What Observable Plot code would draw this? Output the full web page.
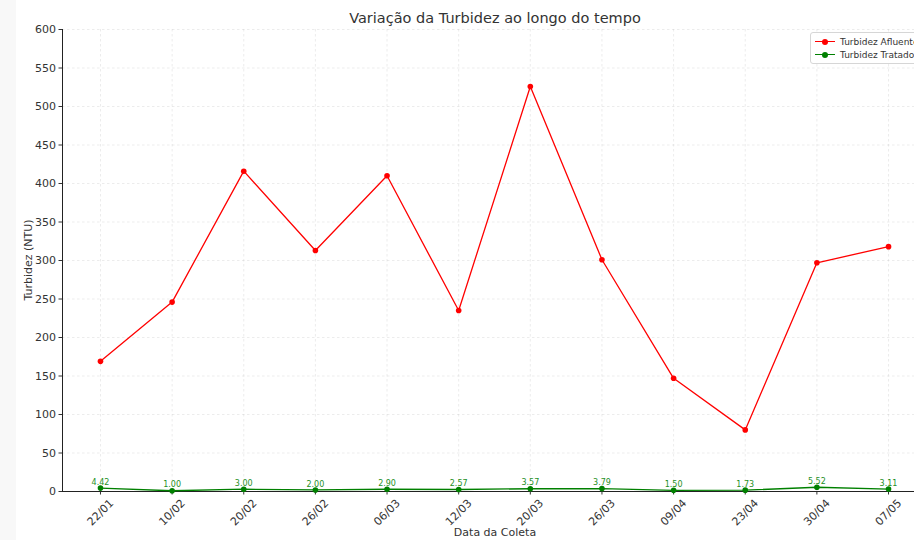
<!DOCTYPE html>
<html>
<head>
<meta charset="utf-8">
<script src="https://cdn.jsdelivr.net/npm/d3@7"></script>
<script src="https://cdn.jsdelivr.net/npm/@observablehq/plot@0.6"></script>
<style>
  html, body { margin: 0; padding: 0; background: #fff; overflow: hidden; width: 914px; height: 540px; }
  body { font-family: "DejaVu Sans", sans-serif; position: relative; }
  #strip { position: absolute; left: 0; top: 0; width: 16px; height: 540px; background: #f8f8f8; }
  #chart { position: absolute; left: 0; top: 0; }
  .lbl { position: absolute; color: #333; white-space: nowrap; }
  #title { left: 0; width: 990px; top: 10px; text-align: center; font-size: 14.5px; }
  #xlab { left: 0; width: 990px; top: 526px; text-align: center; font-size: 11px; }
  #ylab { left: 28px; top: 260px; font-size: 11px; transform: translate(-50%, -50%) rotate(-90deg); }
  #legend { position: absolute; left: 810px; top: 32px; width: 120px; height: 30px; border: 1px solid #d6d6d6; border-radius: 3px; background: rgba(255,255,255,0.85); font-size: 9px; color: #333; }
  .entry { position: absolute; left: 4px; height: 12px; width: 116px; }
  .entry .ln { position: absolute; left: 0; top: 5px; width: 20px; height: 1.4px; }
  .entry .mk { position: absolute; left: 7px; top: 3px; width: 6px; height: 6px; border-radius: 50%; }
  .entry .tx { position: absolute; left: 25px; top: 0; line-height: 12px; white-space: nowrap; }
</style>
</head>
<body>
<div id="strip"></div>
<div id="chart"></div>
<div id="title" class="lbl">Variação da Turbidez ao longo do tempo</div>
<div id="xlab" class="lbl">Data da Coleta</div>
<div id="ylab" class="lbl">Turbidez (NTU)</div>
<div id="legend"></div>
<script>
const dates = ["22/01","10/02","20/02","26/02","06/03","12/03","20/03","26/03","09/04","23/04","30/04","07/05"];
const afluente = [169, 246, 416, 313, 410, 235, 526, 301, 147, 80, 297, 318];
const tratado = [4.42, 1.00, 3.00, 2.00, 2.90, 2.57, 3.57, 3.79, 1.50, 1.73, 5.52, 3.11];
const yTicks = [0, 50, 100, 150, 200, 250, 300, 350, 400, 450, 500, 550, 600];
const seriesNames = ["Turbidez Afluente", "Turbidez Tratado"];
const seriesColors = ["#ff0000", "#008000"];

const rowsA = dates.map((d, i) => ({i, date: d, v: afluente[i]}));
const rowsT = dates.map((d, i) => ({i, date: d, v: tratado[i]}));
const idx = dates.map((d, i) => i);

const gridStyle = {stroke: "#b0b0b0", strokeOpacity: 0.3, strokeDasharray: "2.5,2.5", strokeWidth: 0.8};

const chart = Plot.plot({
  width: 914,
  height: 540,
  marginLeft: 62,
  marginRight: 0,
  marginTop: 29,
  marginBottom: 49,
  style: {fontFamily: "DejaVu Sans, sans-serif", background: "transparent", overflow: "hidden"},
  x: {type: "linear", domain: [-0.53, 11.53], range: [62, 926]},
  y: {domain: [0, 600], range: [491, 29]},
  marks: [
    Plot.gridX(idx, {...gridStyle}),
    Plot.gridY(yTicks, {...gridStyle}),
    Plot.axisY(yTicks, {tickSize: 3.5, tickPadding: 3, fontSize: 11, color: "#333", stroke: "#333", label: null}),
    Plot.axisX(idx, {tickSize: 3.5, tickFormat: () => "", label: null, stroke: "#333"}),
    Plot.text(idx, {x: d => d, y: () => 0, text: d => dates[d], rotate: -45, dy: 21, fontSize: 11, fill: "#333", textAnchor: "middle", lineAnchor: "middle"}),
    Plot.ruleX([-0.53], {stroke: "#222", strokeWidth: 1}),
    Plot.ruleY([0], {stroke: "#222", strokeWidth: 1}),
    Plot.line(rowsA, {x: "i", y: "v", stroke: seriesColors[0], strokeWidth: 1.3}),
    Plot.dot(rowsA, {x: "i", y: "v", r: 2.8, fill: seriesColors[0], stroke: "none"}),
    Plot.line(rowsT, {x: "i", y: "v", stroke: seriesColors[1], strokeWidth: 1.3}),
    Plot.dot(rowsT, {x: "i", y: "v", r: 2.8, fill: seriesColors[1], stroke: "none"}),
    Plot.text(rowsT, {x: "i", y: "v", text: d => d.v.toFixed(2), dy: -6, fontSize: 8, fill: "#1f8f1f", lineAnchor: "middle"})
  ]
});
document.getElementById("chart").appendChild(chart);

const legend = document.getElementById("legend");
seriesNames.forEach((n, k) => {
  const e = document.createElement("div");
  e.className = "entry";
  e.style.top = (3 + k * 13) + "px";
  e.innerHTML = `<div class="ln" style="background:${seriesColors[k]}"></div><div class="mk" style="background:${seriesColors[k]}"></div><div class="tx">${n}</div>`;
  legend.appendChild(e);
});
</script>
</body>
</html>
